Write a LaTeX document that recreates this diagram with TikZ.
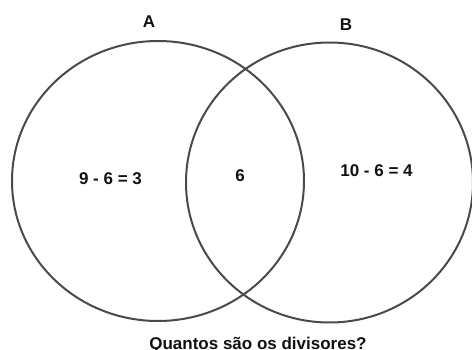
\documentclass[tikz,border=0pt]{standalone}
\usepackage{fontspec}
\setmainfont{Liberation Sans}
\usetikzlibrary{shapes.geometric}
\definecolor{vnLine}{HTML}{4A4A4A}
\definecolor{vnInk}{HTML}{111111}
\begin{document}
\begin{tikzpicture}[x=1pt, y=-1pt, font=\fontsize{17}{19}\selectfont\bfseries,
  set/.style={draw=vnLine, ellipse, line width=2pt, inner sep=0pt, minimum width=#1, minimum height=280pt},
  lab/.style={text=vnInk, inner sep=0pt},
]
\useasboundingbox (0,0) rectangle (472,350);
% ---- sets ----
\node[set=292pt] (setA) at (158,181){};
\node[set=287pt] (setB) at (329.5,182.5){};
% ---- set names ----
\node[lab] (nameA) at (149,22){A};
\node[lab] (nameB) at (346,25){B};
% ---- region counts ----
\node[lab] (onlyA) at (110.5,179){9 - 6 = 3};
\node[lab] (both) at (240,176){6};
\node[lab] (onlyB) at (376.5,171){10 - 6 = 4};
% ---- question ----
\node[lab, anchor=base] (ask) at (258,349.5){Quantos são os divisores?};
\end{tikzpicture}
\end{document}
